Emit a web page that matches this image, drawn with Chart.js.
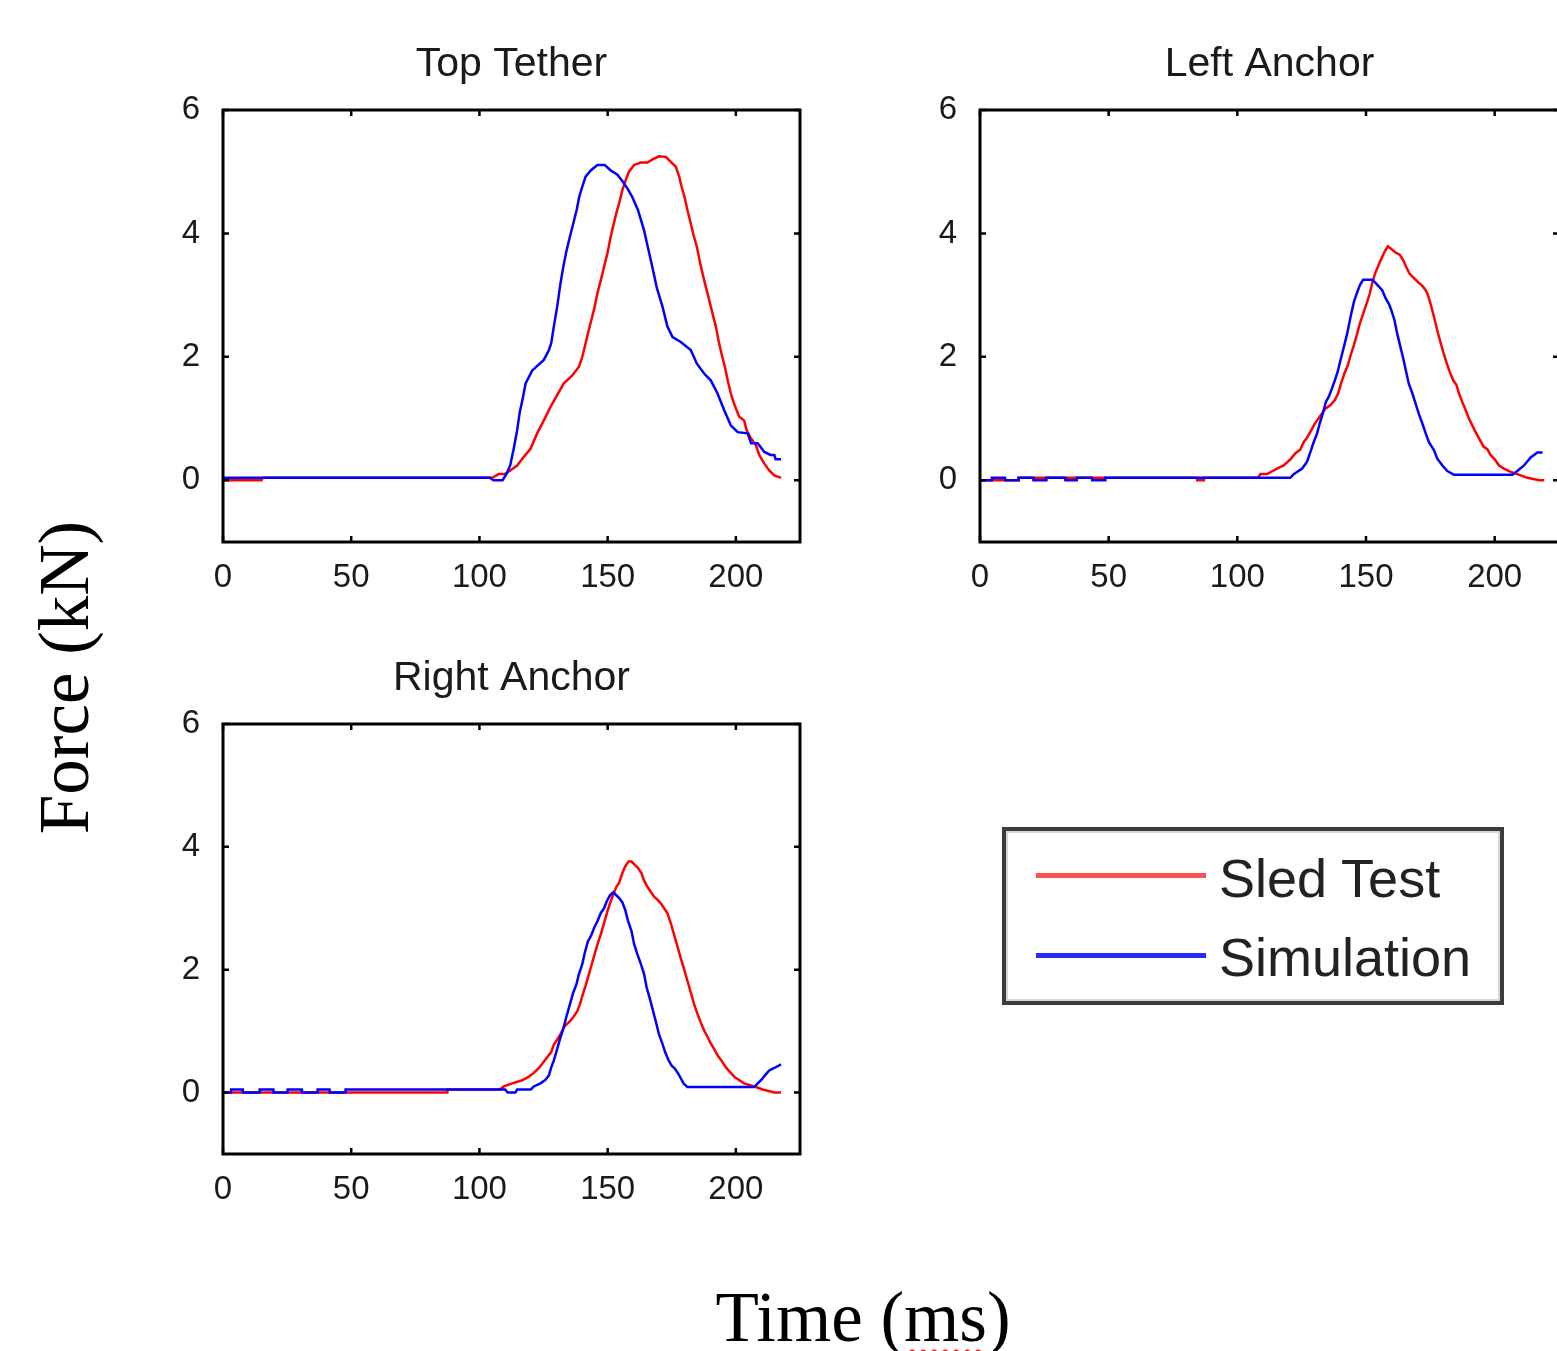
<!DOCTYPE html>
<html>
<head>
<meta charset="utf-8">
<script src="https://cdn.jsdelivr.net/npm/chart.js@4.4.1/dist/chart.umd.min.js"></script>
<style>
  html, body { margin: 0; padding: 0; background: #fff; overflow: hidden; }
  body { position: relative; width: 1557px; height: 1351px; }
  canvas { position: absolute; }
  .lbl { position: absolute; font-family: "Liberation Serif", "Times New Roman", serif; color: #000; white-space: nowrap; text-align: center; }
  .ms { text-decoration: underline wavy #ff2020; text-decoration-thickness: 2px; text-underline-offset: 8px; }
  #legend { position: absolute; left: 1002px; top: 827px; width: 494px; height: 170px; border: 4px solid #3c3c3c; box-shadow: inset 0 0 0 2px #d8d8d8; }
  .key { position: absolute; left: 30px; width: 170px; height: 5px; }
  .txt { position: absolute; left: 213px; font-family: "Liberation Sans", Arial, sans-serif; font-size: 54px; line-height: 54px; color: #222; }
</style>
</head>
<body>
<canvas id="top_tether" width="680" height="620" style="left:130px;top:0px"></canvas>
<canvas id="left_anchor" width="690" height="620" style="left:890px;top:0px"></canvas>
<canvas id="right_anchor" width="680" height="620" style="left:130px;top:614px"></canvas>

<div class="lbl" style="left:-136px;top:642px;width:400px;height:71px;font-size:71px;line-height:71px;transform:rotate(-90deg)">Force (kN)</div>
<div class="lbl" style="left:663px;top:1282px;width:400px;font-size:71px;line-height:70px">Time (<span class="ms">ms</span>)</div>

<div id="legend">
  <div class="key" style="top:42px;background:#ff5050"></div>
  <div class="txt" style="top:20px">Sled Test</div>
  <div class="key" style="top:122px;background:#2828ff"></div>
  <div class="txt" style="top:99px">Simulation</div>
</div>

<script>
// 目盛り
const xTicks = [0, 50, 100, 150, 200];
const yTicks = [0, 2, 4, 6];

// [時間(ms), 力(kN)]
const topTetherSled = [[0,0],[15,0],[15.5,0.04],[105,0.04],[107.5,0.1],[110,0.1],[112,0.16],[114.7,0.24],[117.3,0.38],[119.9,0.51],[122.5,0.76],[125.1,0.97],[127.7,1.19],[130.3,1.38],[132.9,1.57],[136.2,1.7],[138.8,1.84],[140.1,2.0],[141.4,2.22],[142.3,2.38],[143.6,2.59],[144.9,2.81],[146,3.03],[147.3,3.24],[148.6,3.46],[149.9,3.68],[151.2,3.95],[152.2,4.13],[153.5,4.35],[154.8,4.54],[155.7,4.7],[157,4.86],[158.3,5.0],[160.3,5.11],[162.9,5.15],[165.5,5.15],[167.5,5.2],[170,5.25],[172.7,5.24],[174.6,5.16],[176.6,5.08],[177.9,4.92],[178.8,4.76],[180.1,4.57],[181.1,4.38],[182.4,4.16],[183.5,3.97],[184.8,3.78],[185.8,3.57],[187,3.35],[188.3,3.13],[189.6,2.92],[190.9,2.7],[192.2,2.49],[193.2,2.27],[194.4,2.05],[195.7,1.84],[196.8,1.62],[198,1.41],[199.3,1.24],[201.3,1.03],[203.2,0.97],[204.2,0.81],[205.9,0.68],[207.8,0.57],[209.1,0.41],[211.1,0.27],[213,0.16],[215,0.08],[217.6,0.04]];
const topTetherSim = [[0,0.04],[104,0.04],[105.5,0],[109,0],[110.5,0.1],[112,0.24],[113.4,0.52],[114.7,0.81],[115.7,1.1],[117,1.35],[118,1.57],[120.6,1.78],[125.1,1.95],[127,2.1],[128,2.22],[129,2.49],[130.3,2.81],[131.6,3.19],[132.7,3.46],[134,3.73],[135.3,3.95],[136.6,4.16],[137.9,4.38],[138.9,4.59],[140.1,4.76],[141.4,4.92],[143.4,5.02],[146,5.11],[148.8,5.11],[151.2,5.02],[153.8,4.95],[155.7,4.85],[157.7,4.73],[159.6,4.59],[161.8,4.38],[164.2,4.05],[165.5,3.81],[167.4,3.46],[169.1,3.13],[171.4,2.81],[173.3,2.49],[175.3,2.32],[178.5,2.24],[182.4,2.11],[184.8,1.89],[187.6,1.73],[190.2,1.62],[192.8,1.41],[195.4,1.14],[198,0.89],[200.7,0.78],[204.6,0.76],[205.9,0.6],[208.5,0.6],[211.1,0.46],[213.5,0.41],[215,0.41],[215.5,0.34],[217.6,0.34]];

const leftAnchorSled = [[0,0],[14.9,0],[15,0.04],[84.3,0.04],[84.4,0],[86.9,0],[87,0.04],[108,0.04],[109,0.1],[111.6,0.1],[112.8,0.13],[115.4,0.19],[118,0.24],[120.6,0.34],[122.6,0.44],[124.5,0.5],[125.8,0.62],[127.1,0.69],[128.7,0.81],[130,0.91],[132,1.03],[134.2,1.16],[136.2,1.22],[137.9,1.3],[139.2,1.41],[140.3,1.57],[141.6,1.73],[142.9,1.86],[144.2,2.05],[145.3,2.19],[146.6,2.38],[147.6,2.54],[148.9,2.7],[150.2,2.86],[151.5,3.03],[152.4,3.19],[153.6,3.36],[154.9,3.49],[156.3,3.62],[157.2,3.7],[158.5,3.79],[159.5,3.76],[161.5,3.69],[163.2,3.65],[164.5,3.56],[165.6,3.46],[166.9,3.35],[168,3.3],[169.3,3.25],[170.5,3.2],[171.9,3.15],[173.2,3.08],[174.1,3.0],[175.4,2.81],[176.4,2.65],[177.7,2.43],[178.7,2.27],[180,2.08],[181.2,1.92],[182.5,1.76],[183.9,1.62],[185.2,1.54],[186.1,1.41],[187.4,1.27],[188.7,1.14],[190,1.0],[191.3,0.89],[192.6,0.78],[194.3,0.65],[195.6,0.55],[197.2,0.5],[198.4,0.41],[200,0.34],[201.7,0.24],[203.6,0.19],[206,0.14],[208.8,0.1],[212.7,0.04],[217.3,0],[219.3,0]];
const leftAnchorSim = [[0,0],[4.5,0],[4.6,0.04],[9.7,0.04],[9.8,0],[14.9,0],[15,0.04],[20.7,0.04],[20.8,0],[25.7,0],[25.8,0.04],[33.1,0.04],[33.2,0],[37.6,0],[37.7,0.04],[43.5,0.04],[43.6,0],[48.6,0],[48.7,0.04],[120.6,0.04],[121.9,0.1],[125.2,0.19],[127.1,0.3],[128.4,0.46],[129.7,0.62],[131,0.76],[132,0.92],[133.2,1.08],[134.4,1.27],[135.5,1.35],[136.8,1.49],[137.9,1.62],[139,1.76],[140.1,1.95],[141.4,2.16],[142.7,2.38],[144,2.65],[145.3,2.89],[146.6,3.05],[147.6,3.16],[148.9,3.25],[152.4,3.25],[153.7,3.2],[156.3,3.08],[157.6,2.95],[158.9,2.86],[159.8,2.76],[161.1,2.59],[162.1,2.38],[163.2,2.19],[164.5,1.97],[165.6,1.76],[166.6,1.57],[168,1.41],[169.3,1.24],[170.5,1.08],[171.9,0.92],[173.2,0.76],[174.4,0.62],[176.4,0.49],[177.7,0.35],[179.7,0.24],[181.6,0.15],[184.2,0.09],[206.9,0.09],[208.8,0.15],[211.4,0.24],[214,0.37],[216.6,0.45],[218.6,0.45]];

const rightAnchorSled = [[0,0],[87.4,0],[87.5,0.05],[108,0.05],[109.5,0.1],[112.8,0.15],[116.7,0.2],[119.3,0.26],[121.2,0.32],[123.2,0.4],[125.1,0.5],[126.7,0.59],[128,0.66],[129,0.78],[130.3,0.86],[131.6,0.95],[132.9,1.06],[134.2,1.12],[135.5,1.17],[136.8,1.24],[138.2,1.33],[139.2,1.44],[140.1,1.57],[141.4,1.74],[142.5,1.9],[143.6,2.06],[144.9,2.25],[146,2.41],[147.3,2.57],[148.6,2.76],[149.9,2.95],[150.9,3.08],[152.1,3.22],[153.4,3.35],[154.4,3.41],[155.7,3.57],[156.8,3.68],[158.1,3.76],[159.3,3.76],[160.5,3.71],[161.8,3.66],[163.2,3.57],[164.2,3.45],[165.5,3.35],[166.8,3.27],[168.1,3.19],[169.4,3.14],[170.7,3.08],[172,3.0],[173.3,2.92],[174.6,2.76],[175.9,2.57],[177.2,2.38],[178.5,2.19],[179.8,2.01],[181.1,1.82],[182.4,1.63],[183.7,1.44],[185,1.28],[186.3,1.14],[187.6,1.01],[189,0.9],[190.2,0.8],[191.5,0.71],[193.1,0.59],[194.4,0.52],[196.1,0.41],[197.8,0.33],[199.6,0.25],[203.2,0.15],[207.8,0.09],[210.4,0.05],[215,0],[217.6,0]];
const rightAnchorSim = [[0,0],[3.1,0],[3.2,0.05],[7.7,0.05],[7.8,0],[14.2,0],[14.3,0.05],[19.6,0.05],[19.7,0],[25.1,0],[25.2,0.05],[30.7,0.05],[30.8,0],[36.8,0],[36.9,0.05],[41.5,0.05],[41.6,0],[47.7,0],[47.8,0.05],[110,0.05],[111,0],[114,0],[114.7,0.05],[120,0.05],[121.2,0.1],[123.8,0.15],[125.8,0.21],[127.1,0.28],[128,0.41],[129,0.52],[130.1,0.68],[131.4,0.87],[132.7,1.04],[134,1.25],[135.3,1.44],[136.6,1.63],[137.8,1.76],[138.8,1.93],[140.1,2.09],[141.1,2.28],[142.3,2.46],[143.6,2.56],[144.7,2.68],[146,2.79],[147.3,2.92],[148.6,3.0],[149.6,3.11],[150.9,3.21],[152.2,3.26],[154.4,3.17],[155.7,3.1],[156.8,2.98],[157.9,2.8],[159.3,2.63],[160.3,2.42],[161.6,2.25],[162.9,2.1],[164.2,1.93],[165.2,1.71],[166.5,1.52],[167.7,1.33],[169,1.12],[170,0.95],[171.4,0.79],[172.4,0.66],[173.7,0.53],[174.9,0.44],[176.2,0.39],[177.5,0.31],[178.8,0.21],[179.6,0.15],[181.1,0.09],[207.2,0.09],[208.5,0.15],[210,0.21],[211.3,0.28],[213,0.36],[215,0.4],[217.6,0.46]];

const sans = "'Liberation Sans', Arial, sans-serif";

// 枠と内向きの目盛り線 (MATLAB風)
const frame = {
  id: 'frame',
  afterDatasetsDraw(chart) {
    const { ctx, chartArea: a, scales: { x, y } } = chart;
    ctx.save();
    ctx.strokeStyle = '#000';
    ctx.lineWidth = 2.5;
    ctx.beginPath();
    x.ticks.forEach(t => {
      const px = x.getPixelForValue(t.value);
      ctx.moveTo(px, a.bottom); ctx.lineTo(px, a.bottom - 6);
      ctx.moveTo(px, a.top); ctx.lineTo(px, a.top + 6);
    });
    y.ticks.forEach(t => {
      const py = y.getPixelForValue(t.value);
      ctx.moveTo(a.left, py); ctx.lineTo(a.left + 6, py);
      ctx.moveTo(a.right, py); ctx.lineTo(a.right - 6, py);
    });
    ctx.stroke();
    ctx.lineWidth = 3;
    ctx.strokeRect(a.left, a.top, a.width, a.height);
    ctx.restore();
  }
};

const toXY = arr => arr.map(p => ({ x: p[0], y: p[1] }));

function makeChart(id, title, sim, sled, yWidth, xHeight, padRight) {
  return new Chart(document.getElementById(id), {
    type: 'line',
    data: {
      datasets: [
        { label: 'Simulation', data: toXY(sim), borderColor: '#0000ff', borderWidth: 2.5, pointRadius: 0, tension: 0 },
        { label: 'Sled Test', data: toXY(sled), borderColor: '#ff0000', borderWidth: 2.5, pointRadius: 0, tension: 0 }
      ]
    },
    plugins: [frame],
    options: {
      responsive: false,
      animation: false,
      events: [],
      layout: { padding: { left: 0, right: padRight, top: 0, bottom: 0 } },
      plugins: {
        legend: { display: false },
        tooltip: { enabled: false },
        title: {
          display: true,
          text: title,
          fullSize: false,
          color: '#1a1a1a',
          font: { family: sans, size: 41, weight: 'normal' },
          padding: { top: 40, bottom: 20.8 }
        }
      },
      scales: {
        x: {
          type: 'linear',
          min: 0,
          max: 225,
          afterBuildTicks: s => { s.ticks = xTicks.map(v => ({ value: v })); },
          afterFit: s => { s.height = xHeight; },
          grid: { display: false },
          border: { display: false },
          ticks: { padding: 8, color: '#1a1a1a', font: { family: sans, size: 33 }, maxRotation: 0 }
        },
        y: {
          min: -1,
          max: 6,
          afterBuildTicks: s => { s.ticks = yTicks.map(v => ({ value: v })); },
          afterFit: s => { s.width = yWidth; },
          grid: { display: false },
          border: { display: false },
          ticks: { padding: 15, color: '#1a1a1a', font: { family: sans, size: 33 } }
        }
      }
    }
  });
}

makeChart('top_tether', 'Top Tether', topTetherSim, topTetherSled, 93, 78, 10);
makeChart('left_anchor', 'Left Anchor', leftAnchorSim, leftAnchorSled, 90, 78, 21);
makeChart('right_anchor', 'Right Anchor', rightAnchorSim, rightAnchorSled, 93, 80, 10);
</script>
</body>
</html>
